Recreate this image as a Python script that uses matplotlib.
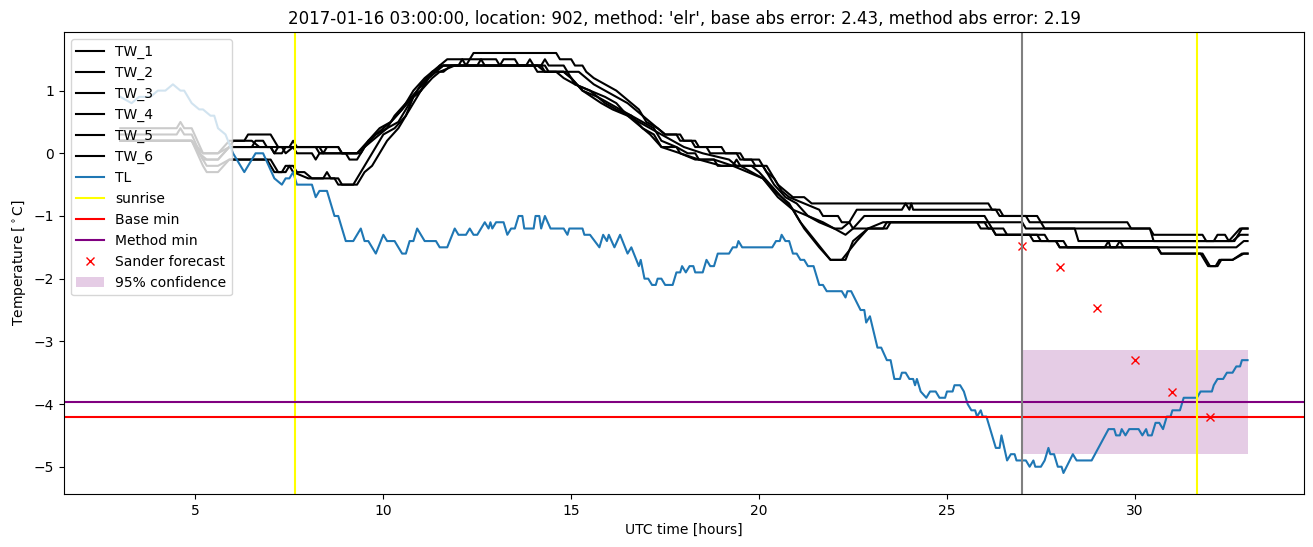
#---------------------------------Start--------------------------------

import numpy as np
import matplotlib
matplotlib.use('Agg')
import matplotlib.pyplot as plt

#-------------------------------Data-----------------------------------
# (hour, temperature) vertices

tl = [(3.0, 0.9), (3.3, 0.8), (3.5, 0.9), (3.8, 0.9), (4.0, 1.0), (4.2, 1.0), (4.4, 1.1),
      (4.6, 1.0), (4.7, 1.0), (4.9, 0.8), (5.1, 0.7), (5.2, 0.7), (5.4, 0.6), (5.5, 0.6),
      (5.6, 0.4), (5.8, 0.3), (6.0, 0.0), (6.3, -0.3), (6.6, 0.0), (6.8, 0.0), (7.1, -0.4),
      (7.3, -0.5), (7.4, -0.4), (7.5, -0.4), (7.6, -0.3), (7.7, -0.5), (8.1, -0.5), (8.2, -0.7),
      (8.3, -0.6), (8.5, -0.6), (8.7, -1.0), (8.8, -1.0), (8.9, -1.2), (9.0, -1.4), (9.2, -1.4),
      (9.4, -1.2), (9.5, -1.4), (9.6, -1.4), (9.8, -1.6), (10.0, -1.3), (10.1, -1.4), (10.3, -1.4),
      (10.5, -1.6), (10.6, -1.6), (10.7, -1.4), (10.8, -1.4), (10.9, -1.2), (11.1, -1.4),
      (11.4, -1.4), (11.5, -1.5), (11.7, -1.5), (11.9, -1.2), (12.0, -1.3), (12.2, -1.3),
      (12.3, -1.2), (12.4, -1.3), (12.5, -1.3), (12.7, -1.1), (12.8, -1.2), (12.85, -1.1),
      (12.9, -1.2), (13.0, -1.1), (13.2, -1.1), (13.3, -1.3), (13.4, -1.2), (13.5, -1.2),
      (13.6, -1.0), (13.7, -1.0), (13.75, -1.2), (14.0, -1.2), (14.05, -1.0), (14.15, -1.0),
      (14.2, -1.2), (14.3, -1.0), (14.45, -1.2), (14.8, -1.2), (14.9, -1.3), (14.95, -1.2),
      (15.3, -1.2), (15.35, -1.3), (15.5, -1.3), (15.75, -1.5), (15.85, -1.3), (15.95, -1.4),
      (16.0, -1.3), (16.15, -1.5), (16.3, -1.3), (16.5, -1.6), (16.6, -1.5), (16.8, -1.8),
      (16.85, -1.7), (16.95, -2.0), (17.05, -2.0), (17.15, -2.1), (17.25, -2.1), (17.3, -2.0),
      (17.4, -2.0), (17.5, -2.1), (17.7, -2.1), (17.8, -1.9), (17.9, -1.9), (17.95, -1.8),
      (18.05, -1.9), (18.15, -1.8), (18.25, -1.8), (18.3, -1.9), (18.5, -1.9), (18.6, -1.7),
      (18.7, -1.8), (18.8, -1.8), (18.9, -1.6), (19.2, -1.6), (19.3, -1.5), (19.4, -1.5),
      (19.45, -1.4), (19.55, -1.5), (20.35, -1.5), (20.45, -1.4), (20.55, -1.4), (20.6, -1.3),
      (20.7, -1.4), (20.8, -1.4), (20.9, -1.6), (21.0, -1.6), (21.1, -1.7), (21.2, -1.7),
      (21.3, -1.8), (21.45, -1.8), (21.6, -2.1), (21.7, -2.1), (21.8, -2.2), (22.2, -2.2),
      (22.3, -2.3), (22.35, -2.2), (22.45, -2.2), (22.7, -2.5), (22.8, -2.5), (22.85, -2.7),
      (22.95, -2.6), (23.15, -3.1), (23.25, -3.1), (23.4, -3.3), (23.5, -3.3), (23.6, -3.6),
      (23.75, -3.6), (23.8, -3.5), (23.9, -3.5), (24.0, -3.6), (24.1, -3.6), (24.15, -3.7),
      (24.2, -3.6), (24.3, -3.8), (24.45, -3.9), (24.55, -3.8), (24.7, -3.8), (24.8, -3.9),
      (24.95, -3.9), (25.0, -3.8), (25.15, -3.8), (25.2, -3.7), (25.35, -3.7), (25.45, -3.8),
      (25.55, -4.0), (25.65, -4.1), (25.75, -4.1), (25.8, -4.2), (25.9, -4.1), (25.95, -4.2),
      (26.05, -4.2), (26.1, -4.3), (26.3, -4.7), (26.4, -4.7), (26.45, -4.5), (26.6, -4.9),
      (26.7, -4.8), (26.8, -4.8), (26.85, -4.9), (27.1, -4.9), (27.2, -5.0), (27.3, -4.9),
      (27.35, -5.0), (27.5, -5.0), (27.6, -4.9), (27.7, -4.7), (27.75, -4.8), (27.85, -4.8),
      (27.95, -5.0), (28.05, -5.0), (28.1, -5.1), (28.35, -4.8), (28.45, -4.9), (28.85, -4.9),
      (29.3, -4.4), (29.45, -4.4), (29.5, -4.5), (29.6, -4.5), (29.65, -4.4), (29.75, -4.5),
      (29.85, -4.4), (30.1, -4.4), (30.2, -4.5), (30.3, -4.4), (30.35, -4.5), (30.45, -4.5),
      (30.55, -4.3), (30.65, -4.3), (30.75, -4.4), (30.85, -4.2), (30.95, -4.2), (31.0, -4.1),
      (31.2, -4.1), (31.3, -3.9), (31.65, -3.9), (31.75, -3.8), (32.05, -3.8), (32.1, -3.7),
      (32.2, -3.6), (32.35, -3.6), (32.45, -3.5), (32.6, -3.5), (32.7, -3.4), (32.8, -3.4),
      (32.85, -3.3), (33.0, -3.3)]

tw_1 = [(3.0, 0.4), (4.5, 0.4), (4.6, 0.5), (4.7, 0.4), (4.9, 0.4), (5.2, 0.0), (5.6, 0.0),
        (5.9, 0.2), (6.3, 0.2), (6.4, 0.3), (7.0, 0.3), (7.2, 0.1), (7.5, 0.1), (7.6, 0.2),
        (7.7, 0.1), (8.8, 0.1), (8.9, 0.0), (9.3, 0.0), (9.5, 0.1), (9.7, 0.2), (9.9, 0.3),
        (10.1, 0.4), (10.4, 0.5), (10.6, 0.7), (10.8, 0.9), (11.0, 1.0), (11.2, 1.2), (11.4, 1.3),
        (11.5, 1.4), (11.7, 1.5), (12.3, 1.5), (12.4, 1.6), (14.6, 1.6), (14.7, 1.5), (15.0, 1.5),
        (15.1, 1.4), (15.3, 1.4), (15.4, 1.3), (15.6, 1.2), (15.9, 1.1), (16.2, 1.0), (16.4, 0.9),
        (16.6, 0.8), (16.8, 0.7), (17.0, 0.5), (17.3, 0.4), (17.5, 0.3), (17.9, 0.3), (18.0, 0.2),
        (18.3, 0.2), (18.4, 0.1), (18.6, 0.1), (18.7, 0.0), (19.4, 0.0), (19.5, -0.1), (19.8, -0.1),
        (19.9, -0.2), (20.2, -0.2), (20.3, -0.3), (20.5, -0.5), (20.7, -0.6), (20.9, -0.7),
        (21.2, -0.7), (21.4, -0.8), (26.1, -0.8), (26.2, -0.9), (26.4, -0.9), (26.5, -1.0),
        (27.4, -1.0), (27.5, -1.1), (29.8, -1.1), (29.9, -1.2), (30.4, -1.2), (30.5, -1.3),
        (31.8, -1.3), (31.9, -1.4), (32.1, -1.4), (32.2, -1.3), (32.4, -1.3), (32.5, -1.4),
        (32.65, -1.4), (32.75, -1.3), (32.85, -1.2), (33.0, -1.2)]

tw_2 = [(3.0, 0.3), (4.5, 0.3), (4.6, 0.4), (4.7, 0.3), (4.9, 0.3), (5.2, -0.1), (5.6, -0.1),
        (5.9, 0.1), (6.5, 0.1), (6.6, 0.2), (6.8, 0.2), (6.9, 0.1), (7.3, 0.1), (7.4, 0.0),
        (7.6, 0.1), (8.3, 0.1), (8.4, 0.0), (8.5, 0.1), (8.8, 0.1), (8.9, 0.0), (9.3, 0.0),
        (9.6, 0.2), (9.9, 0.4), (10.2, 0.5), (10.5, 0.7), (10.8, 1.0), (11.1, 1.2), (11.3, 1.3),
        (11.6, 1.4), (12.2, 1.4), (12.3, 1.5), (13.0, 1.5), (13.1, 1.4), (13.2, 1.5), (13.5, 1.5),
        (13.6, 1.4), (14.2, 1.4), (14.3, 1.5), (14.4, 1.4), (14.8, 1.4), (14.9, 1.3), (15.2, 1.3),
        (15.4, 1.2), (15.6, 1.1), (15.9, 1.0), (16.2, 0.9), (16.5, 0.8), (16.7, 0.7), (16.9, 0.6),
        (17.1, 0.5), (17.3, 0.4), (17.5, 0.3), (17.8, 0.3), (17.9, 0.2), (18.2, 0.2), (18.3, 0.1),
        (19.0, 0.1), (19.1, 0.0), (19.5, 0.0), (19.6, -0.1), (20.0, -0.1), (20.2, -0.3),
        (20.4, -0.4), (20.6, -0.6), (20.8, -0.7), (21.2, -0.8), (21.6, -0.9), (21.7, -1.0),
        (22.1, -1.0), (22.2, -1.1), (22.4, -1.1), (22.5, -1.0), (22.6, -0.9), (23.8, -0.9),
        (23.9, -0.8), (24.0, -0.9), (24.05, -0.8), (24.1, -0.9), (26.3, -0.9), (26.4, -1.0),
        (27.1, -1.0), (27.2, -1.1), (27.5, -1.1), (27.6, -1.2), (30.4, -1.2), (30.5, -1.4),
        (32.5, -1.4), (32.8, -1.2), (33.0, -1.2)]

tw_3 = [(3.0, 0.2), (4.9, 0.2), (5.1, 0.0), (5.3, -0.1), (5.6, -0.1), (5.9, 0.1), (6.0, 0.2),
        (6.5, 0.2), (6.7, 0.1), (7.0, 0.1), (7.1, 0.0), (7.2, 0.1), (7.6, 0.1), (7.7, 0.0),
        (8.1, 0.0), (8.2, -0.1), (8.3, 0.0), (9.4, 0.0), (9.6, 0.2), (9.8, 0.3), (10.1, 0.4),
        (10.3, 0.6), (10.6, 0.8), (10.9, 1.0), (11.2, 1.2), (11.4, 1.3), (11.6, 1.4), (12.5, 1.4),
        (12.6, 1.5), (12.7, 1.4), (13.8, 1.4), (13.9, 1.5), (14.0, 1.4), (14.3, 1.4), (14.4, 1.3),
        (14.8, 1.3), (15.0, 1.2), (15.3, 1.0), (15.7, 0.9), (16.0, 0.8), (16.3, 0.7), (16.6, 0.6),
        (16.9, 0.5), (17.2, 0.4), (17.4, 0.2), (17.8, 0.1), (18.1, 0.0), (18.3, 0.0), (18.4, -0.1),
        (18.8, -0.1), (18.9, -0.2), (19.3, -0.2), (19.4, -0.1), (19.5, -0.2), (20.1, -0.2),
        (20.2, -0.3), (20.4, -0.5), (20.7, -0.7), (21.0, -0.8), (21.3, -1.0), (21.6, -1.1),
        (22.0, -1.2), (22.3, -1.3), (22.5, -1.2), (22.8, -1.0), (26.0, -1.0), (26.1, -1.1),
        (27.0, -1.1), (27.1, -1.2), (28.4, -1.2), (28.5, -1.4), (32.6, -1.4), (32.8, -1.3),
        (33.0, -1.3)]

tw_4 = [(3.0, 0.2), (4.9, 0.2), (5.2, -0.2), (5.3, -0.3), (5.6, -0.3), (5.9, -0.1), (6.9, -0.1),
        (7.1, -0.3), (7.3, -0.3), (7.4, -0.2), (7.6, -0.2), (7.7, -0.3), (7.9, -0.3), (8.1, -0.4),
        (8.4, -0.4), (8.5, -0.3), (8.6, -0.4), (8.8, -0.4), (8.9, -0.5), (9.2, -0.5), (9.4, -0.3),
        (9.6, -0.1), (9.8, 0.1), (10.0, 0.3), (10.3, 0.4), (10.6, 0.6), (10.8, 0.9), (11.0, 1.0),
        (11.3, 1.3), (11.6, 1.3), (11.8, 1.4), (14.1, 1.4), (14.3, 1.3), (14.8, 1.3), (15.0, 1.2),
        (15.3, 1.0), (15.8, 0.8), (16.1, 0.7), (16.5, 0.6), (16.9, 0.4), (17.1, 0.3), (17.4, 0.1),
        (17.8, 0.1), (17.9, 0.0), (18.3, -0.1), (18.8, -0.1), (19.3, -0.2), (19.7, -0.3),
        (20.1, -0.4), (20.4, -0.6), (20.8, -0.8), (21.1, -1.1), (21.5, -1.4), (21.9, -1.7),
        (22.3, -1.7), (22.5, -1.4), (22.9, -1.2), (23.3, -1.1), (26.0, -1.1), (26.1, -1.2),
        (26.2, -1.2), (26.3, -1.3), (27.4, -1.3), (27.5, -1.4), (27.9, -1.4), (28.0, -1.5),
        (29.2, -1.5), (29.3, -1.4), (29.35, -1.5), (29.5, -1.5), (29.6, -1.4), (29.7, -1.5),
        (32.7, -1.5), (32.9, -1.4), (33.0, -1.4)]

tw_5 = [(3.0, 0.2), (4.9, 0.2), (5.2, -0.1), (5.3, -0.2), (5.6, -0.2), (5.9, -0.1), (7.0, -0.1),
        (7.2, -0.3), (7.4, -0.3), (7.5, -0.2), (7.6, -0.3), (8.0, -0.4), (8.7, -0.4), (8.8, -0.5),
        (9.3, -0.5), (9.5, -0.3), (9.7, -0.2), (9.9, 0.0), (10.1, 0.2), (10.4, 0.4), (10.7, 0.7),
        (11.0, 1.0), (11.3, 1.2), (11.5, 1.3), (11.9, 1.4), (14.2, 1.4), (14.3, 1.3), (14.9, 1.3),
        (15.1, 1.1), (15.5, 1.0), (15.9, 0.8), (16.2, 0.7), (16.6, 0.6), (16.9, 0.4), (17.2, 0.3),
        (17.4, 0.1), (17.9, 0.0), (18.4, -0.1), (19.0, -0.2), (19.5, -0.2), (19.8, -0.3),
        (20.1, -0.4), (20.5, -0.7), (20.9, -0.9), (21.2, -1.2), (21.6, -1.5), (21.9, -1.7),
        (22.2, -1.7), (22.6, -1.4), (22.9, -1.2), (23.4, -1.2), (23.5, -1.1), (25.8, -1.1),
        (25.9, -1.2), (26.2, -1.2), (26.3, -1.3), (27.2, -1.3), (27.3, -1.4), (27.9, -1.4),
        (28.0, -1.5), (30.6, -1.5), (30.7, -1.6), (31.75, -1.6), (31.85, -1.7), (31.95, -1.8),
        (32.2, -1.8), (32.3, -1.7), (32.6, -1.7), (32.9, -1.6), (33.0, -1.6)]

tw_6 = [(3.0, 0.2), (4.9, 0.2), (5.2, 0.0), (5.6, 0.0), (5.9, 0.1), (7.0, 0.1), (7.1, 0.0),
        (7.3, 0.0), (7.4, 0.1), (8.2, 0.1), (8.3, 0.0), (9.0, 0.0), (9.1, -0.1), (9.3, -0.1),
        (9.5, 0.1), (9.8, 0.3), (10.2, 0.5), (10.5, 0.7), (10.8, 0.9), (11.0, 1.1), (11.3, 1.3),
        (11.5, 1.4), (12.0, 1.4), (12.1, 1.5), (12.2, 1.4), (14.0, 1.4), (14.1, 1.3), (14.6, 1.3),
        (14.8, 1.2), (15.1, 1.1), (15.5, 1.0), (15.9, 0.9), (16.2, 0.8), (16.5, 0.6), (16.8, 0.5),
        (17.1, 0.4), (17.4, 0.3), (17.7, 0.2), (18.0, 0.1), (18.5, 0.0), (19.2, -0.1), (19.4, -0.2),
        (19.8, -0.2), (20.0, -0.3), (20.3, -0.5), (20.6, -0.7), (20.9, -0.9), (21.3, -1.0),
        (21.7, -1.1), (22.0, -1.2), (22.2, -1.2), (22.4, -1.1), (22.5, -1.2), (23.3, -1.2),
        (23.4, -1.1), (26.1, -1.1), (26.2, -1.2), (26.5, -1.2), (26.6, -1.3), (27.6, -1.3),
        (27.7, -1.4), (28.1, -1.4), (28.2, -1.5), (30.6, -1.5), (30.7, -1.6), (31.8, -1.6),
        (31.9, -1.7), (32.0, -1.8), (32.15, -1.8), (32.25, -1.7), (32.6, -1.7), (32.85, -1.6),
        (33.0, -1.6)]

tw_names = ['TW_1', 'TW_2', 'TW_3', 'TW_4', 'TW_5', 'TW_6']

sunrise_hours = [7.66, 31.65]
now_hour = 27.0
base_min = -4.21
method_min = -3.97

sander_hours = [27, 28, 29, 30, 31, 32]
sander_temp = [-1.48, -1.82, -2.47, -3.29, -3.81, -4.21]

conf_hours = [27.0, 33.0]
conf_low = -4.8
conf_high = -3.13

title = ("2017-01-16 03:00:00, location: 902, method: 'elr', "
         "base abs error: 2.43, method abs error: 2.19")

#-------------------------------Plot-----------------------------------

fig = plt.figure(figsize=(13.13, 5.47), dpi=100)
ax = fig.add_subplot(111)
fig.subplots_adjust(left=0.0487, right=0.9931, top=0.9415, bottom=0.0969)

for name, series in zip(tw_names, [tw_1, tw_2, tw_3, tw_4, tw_5, tw_6]):
    h, t = zip(*series)
    ax.plot(h, t, color='black', label=name)

h, t = zip(*tl)
ax.plot(h, t, color='C0', label='TL')

ax.axvline(sunrise_hours[0], color='yellow', label='sunrise')
ax.axhline(base_min, color='red', label='Base min')
ax.axhline(method_min, color='purple', label='Method min')
ax.plot(sander_hours, sander_temp, 'rx', label='Sander forecast')
ax.axvline(sunrise_hours[1], color='yellow')
ax.axvline(now_hour, color='grey')
ax.fill_between(conf_hours, conf_low, conf_high, color='purple', alpha=0.2,
                linewidth=0, label='95% confidence')

ax.set_xticks([5, 10, 15, 20, 25, 30])
ax.set_title(title)
ax.set_xlabel('UTC time [hours]')
ax.set_ylabel(r'Temperature [$^\circ$C]')
ax.legend(loc='upper left')

fig.savefig('out.png', dpi=100)
#------------------------------End---------------------------------------
